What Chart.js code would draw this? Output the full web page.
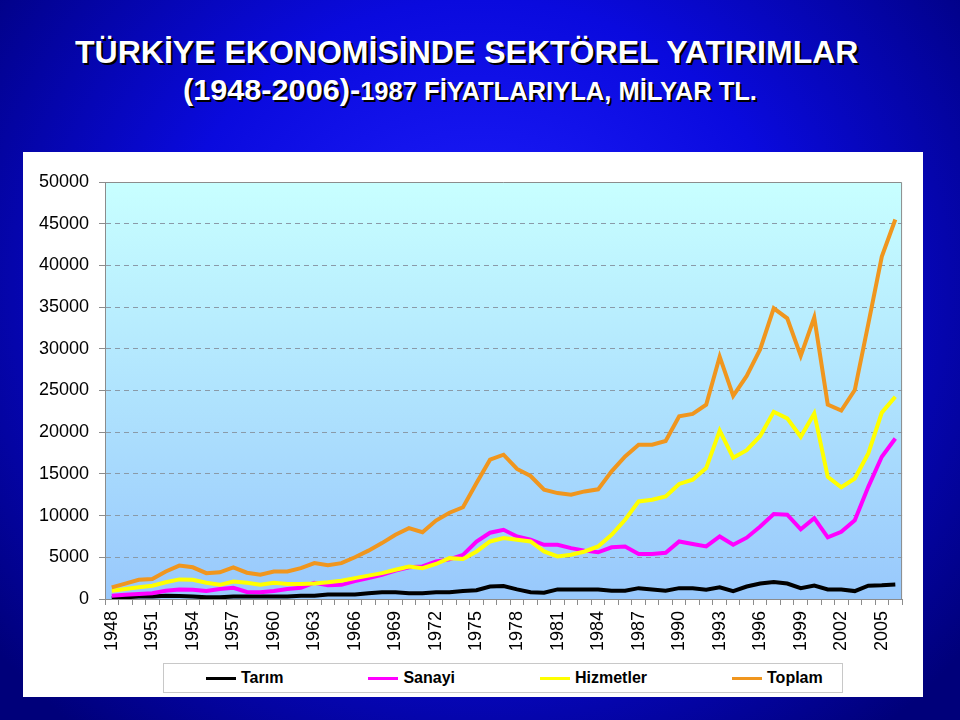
<!DOCTYPE html>
<html>
<head>
<meta charset="utf-8">
<script src="https://cdn.jsdelivr.net/npm/chart.js@4.4.0/dist/chart.umd.min.js"></script>
<style>
html, body { margin: 0; padding: 0; }
body {
    width: 960px; height: 720px; position: relative; overflow: hidden;
    background: radial-gradient(ellipse 65% 80% at 50% 40%, #2020ff 0%, #0a0ade 50%, #00007a 100%);
    font-family: "Liberation Sans", Arial, sans-serif;
}
.title {
    position: absolute; white-space: nowrap; color: #fff; font-weight: bold;
    line-height: 1; text-shadow: 2px 2px 0 #000; transform-origin: 0 0;
}
#t1 { left: 75px; top: 37px; font-size: 31px; }
#t2 { left: 183px; top: 75px; font-size: 30px; }
#t2 span { font-size: 25px; }
#panel { position: absolute; left: 23px; top: 152px; width: 900px; height: 545px; background: #fff; }
#legend {
    position: absolute; left: 163px; top: 663px; width: 680px; height: 30px;
    box-sizing: border-box; border: 1px solid #c8c8c8; background: #fff;
    display: flex; align-items: center; padding-left: 42px; gap: 85px;
    font-weight: bold; font-size: 16px; color: #000;
}
#legend .item { display: flex; align-items: center; }
#legend .swatch { display: inline-block; width: 30px; height: 3px; margin-right: 5px; }
</style>
</head>
<body>
<div class="title" id="t1">TÜRKİYE EKONOMİSİNDE SEKTÖREL YATIRIMLAR</div>
<div class="title" id="t2">(1948-2006)-<span>1987 FİYATLARIYLA, MİLYAR TL.</span></div>
<div id="panel"><canvas id="chart" width="900" height="545"></canvas></div>
<div id="legend"></div>
<script>
const years = ['1948','1949','1950','1951','1952','1953','1954','1955','1956','1957',
    '1958','1959','1960','1961','1962','1963','1964','1965','1966','1967',
    '1968','1969','1970','1971','1972','1973','1974','1975','1976','1977',
    '1978','1979','1980','1981','1982','1983','1984','1985','1986','1987',
    '1988','1989','1990','1991','1992','1993','1994','1995','1996','1997',
    '1998','1999','2000','2001','2002','2003','2004','2005','2006']

const tarim = [100,200,300,300,400,350,300,200,200,300,
    300,300,300,300,400,400,550,550,550,700,
    800,800,700,700,800,800,950,1050,1500,1550,
    1150,800,750,1150,1150,1150,1150,1000,1000,1300,
    1150,1000,1300,1300,1100,1400,950,1500,1850,2050,
    1850,1300,1600,1150,1150,950,1600,1650,1750]

const sanayi = [400,500,600,700,1000,1150,1100,950,1200,1350,
    850,800,950,1200,1350,1950,1650,1700,2150,2500,
    2900,3400,3800,3900,4500,4750,5300,6900,7950,8300,
    7500,7100,6500,6500,6100,5800,5600,6200,6300,5400,
    5400,5550,6900,6600,6300,7500,6500,7350,8700,10200,
    10100,8350,9700,7400,8050,9450,13450,17050,19250]

const hizmetler = [1000,1200,1400,1600,2000,2350,2300,1950,1700,2100,
    1950,1700,1950,1800,1800,1850,2000,2200,2500,2800,
    3100,3500,3900,3700,4200,4900,4800,5700,6900,7300,
    7100,6900,5700,5100,5300,5700,6300,7700,9500,11700,
    11900,12300,13800,14300,15700,20200,16950,17850,19550,22450,
    21650,19450,22250,14650,13400,14450,17450,22350,24250]

const toplam = [1400,1850,2300,2400,3300,4000,3800,3100,3200,3800,
    3150,2900,3300,3300,3700,4300,4050,4300,5000,5800,
    6700,7700,8500,8000,9400,10350,11000,13900,16700,17300,
    15600,14750,13100,12700,12500,12900,13150,15300,17100,18500,
    18500,18950,21900,22200,23300,29050,24350,26750,29950,34850,
    33650,29150,33750,23300,22600,25050,33000,41050,45500]

const series = [
    { label: 'Tarım', data: tarim, color: '#000000', order: 3 },
    { label: 'Sanayi', data: sanayi, color: '#ff00ff', order: 2 },
    { label: 'Hizmetler', data: hizmetler, color: '#ffff00', order: 1 },
    { label: 'Toplam', data: toplam, color: '#f0961e', order: 0 },
]

// squeeze the title lines to the width they have in the slide
function fit_title(id, target_width) {
    const el = document.getElementById(id)
    el.style.transform = `scaleX(${target_width / el.offsetWidth})`
}
fit_title('t1', 783)
fit_title('t2', 574)

Chart.defaults.font.family = "'Liberation Sans', Arial, sans-serif"
Chart.defaults.color = '#000'

const plot_background = {
    id: 'plot_background',
    beforeDraw(chart) {
        const { ctx, chartArea: a } = chart
        const g = ctx.createLinearGradient(0, a.top, 0, a.bottom)
        g.addColorStop(0, '#c8ffff')
        g.addColorStop(1, '#98c8fc')
        ctx.save()
        ctx.fillStyle = g
        ctx.fillRect(a.left, a.top, a.width, a.height)
        ctx.restore()
    },
    beforeDatasetsDraw(chart) {
        const { ctx, chartArea: a } = chart
        ctx.save()
        ctx.strokeStyle = '#8c8c8c'
        ctx.lineWidth = 1
        ctx.beginPath()
        ctx.moveTo(a.left, a.top + 0.5)
        ctx.lineTo(a.right - 0.5, a.top + 0.5)
        ctx.lineTo(a.right - 0.5, a.bottom)
        ctx.stroke()
        ctx.restore()
    }
}

const chart = new Chart(document.getElementById('chart'), {
    type: 'line',
    data: {
        labels: years,
        datasets: series.map(s => ({
            label: s.label,
            data: s.data,
            borderColor: s.color,
            backgroundColor: s.color,
            borderWidth: 4,
            pointRadius: 0,
            tension: 0,
            order: s.order,
        }))
    },
    options: {
        responsive: false,
        animation: false,
        layout: { padding: { top: 30, right: 10, left: 0, bottom: 0 } },
        plugins: {
            legend: { display: false },
            tooltip: { enabled: false },
        },
        scales: {
            x: {
                offset: true,
                afterFit: scale => { scale.height = 98 },
                grid: {
                    offset: true,
                    drawOnChartArea: false,
                    drawTicks: true,
                    tickLength: 6,
                    color: '#8c8c8c',
                },
                border: { color: '#8c8c8c' },
                ticks: {
                    autoSkip: false,
                    maxRotation: 90,
                    minRotation: 90,
                    padding: 6,
                    font: { size: 18 },
                    callback: (value, i) => i % 3 === 0 ? years[i] : '',
                },
            },
            y: {
                min: 0,
                max: 50000,
                afterFit: scale => { scale.width = 82 },
                grid: {
                    color: ctx => (ctx.tick && (ctx.tick.value === 0 || ctx.tick.value === 50000)) ? 'rgba(0,0,0,0)' : '#8a9aa8',
                    tickColor: '#8c8c8c',
                    tickLength: 6,
                },
                border: { color: '#8c8c8c', dash: [5, 4] },
                ticks: {
                    stepSize: 5000,
                    padding: 10,
                    font: { size: 18 },
                    callback: value => String(value),
                },
            },
        },
    },
    plugins: [plot_background],
})

// legend drawn as html, built from the chart's datasets
const legend = document.getElementById('legend')
chart.data.datasets.forEach(ds => {
    const item = document.createElement('div')
    item.className = 'item'
    const swatch = document.createElement('span')
    swatch.className = 'swatch'
    swatch.style.background = ds.borderColor
    const text = document.createElement('span')
    text.textContent = ds.label
    item.appendChild(swatch)
    item.appendChild(text)
    legend.appendChild(item)
})
</script>
</body>
</html>
